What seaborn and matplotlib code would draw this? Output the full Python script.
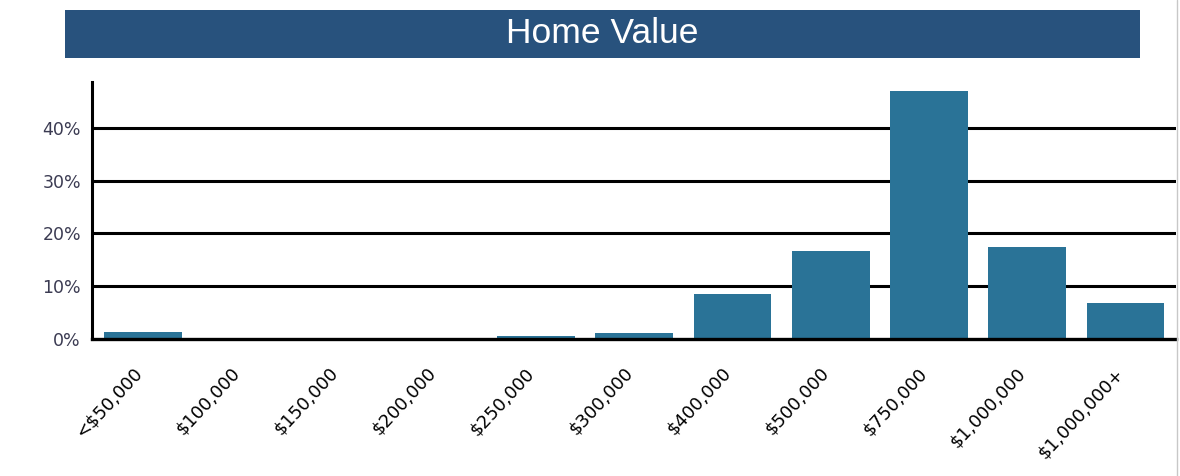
import pandas as pd
import matplotlib
matplotlib.use("Agg")
import matplotlib.pyplot as plt
import matplotlib.transforms as mtransforms
import seaborn as sns
from matplotlib.patches import Rectangle
from matplotlib.lines import Line2D
from matplotlib.ticker import FuncFormatter


categories = [
    "<$50,000", "$100,000", "$150,000", "$200,000", "$250,000", "$300,000",
    "$400,000", "$500,000", "$750,000", "$1,000,000", "$1,000,000+"
]
shares = [1.3, 0.0, 0.0, 0.0, 0.6, 1.2, 8.5, 16.7, 47.0, 17.4, 6.8]
y_ticks = [0, 10, 20, 30, 40]

df = pd.DataFrame({"bracket": categories, "share": shares})

sns.set_style("white")
plt.rcParams["font.family"] = ["DejaVu Sans"]

fig = plt.figure(figsize=(11.8, 4.76), dpi=100)
ax = fig.add_axes([0.078, 0.288, 0.919, 0.54])

sns.barplot(data=df, x="bracket", y="share", color="#2a7397",
            saturation=1, width=0.79, edgecolor="none", linewidth=0,
            zorder=3, ax=ax)

ax.set_xlim(-0.52, len(categories) - 0.48)
ax.set_ylim(0, 48.7)
ax.set_yticks(y_ticks)
ax.yaxis.set_major_formatter(FuncFormatter(lambda v, p: f"{v:.0f}%"))
for t in y_ticks[1:]:
    ax.axhline(t, color="black", lw=2.2, zorder=1)

for side in ["top", "right"]:
    ax.spines[side].set_visible(False)
ax.spines["left"].set_linewidth(2.2)
ax.spines["bottom"].set_linewidth(2.4)
ax.spines["left"].set_color("black")
ax.spines["bottom"].set_color("black")
ax.spines["bottom"].set_zorder(4)

ax.set_xlabel("")
ax.set_ylabel("")
ax.tick_params(axis="y", labelsize=12.5, colors="#3b3b52", length=0, pad=8)
ax.tick_params(axis="x", labelsize=13, colors="black", length=0, pad=18)
shift = mtransforms.ScaledTranslation(-11 / 100, 0, fig.dpi_scale_trans)
for lbl in ax.get_xticklabels():
    lbl.set_rotation(47)
    lbl.set_ha("right")
    lbl.set_va("top")
    lbl.set_rotation_mode("anchor")
    lbl.set_transform(lbl.get_transform() + shift)

# title banner
fig.add_artist(Rectangle((0.055, 0.878), 0.911, 0.101, transform=fig.transFigure,
                         facecolor="#28527d", edgecolor="none"))
fig.text(0.51, 0.9097, "Home Value", color="white", fontsize=25.5,
         family=["Liberation Sans", "DejaVu Sans"],
         ha="center", va="baseline")

# thin frame edge on the right
fig.add_artist(Line2D([0.9975, 0.9975], [0, 1], transform=fig.transFigure,
                      color="#c8c8c8", lw=1))

fig.savefig("out.png", dpi=100)
